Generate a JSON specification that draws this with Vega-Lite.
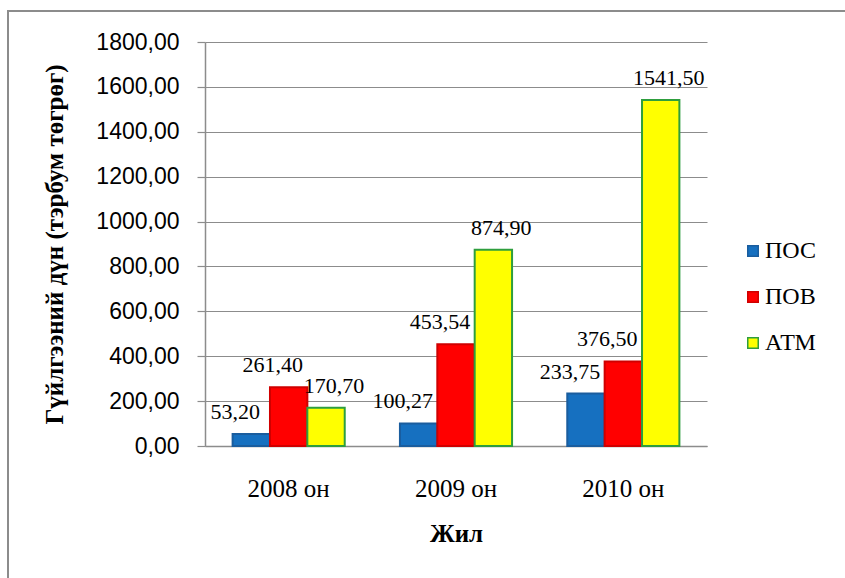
{
  "$schema": "https://vega.github.io/schema/vega-lite/v6.json",
  "width": 841,
  "height": 571,
  "autosize": {"type": "none"},
  "padding": {"left": 8, "top": 11, "right": -4, "bottom": -4},
  "background": "white",
  "config": {
    "view": {"stroke": "#8c8c8c", "strokeWidth": 2},
    "locale": {"number": {"decimal": ",", "thousands": "", "grouping": [3], "currency": ["", ""]}}
  },
  "data": {
    "values": [
      {"year": "2008 он", "type": "ПОС", "value": 53.20},
      {"year": "2008 он", "type": "ПОВ", "value": 261.40},
      {"year": "2008 он", "type": "АТМ", "value": 170.70},
      {"year": "2009 он", "type": "ПОС", "value": 100.27},
      {"year": "2009 он", "type": "ПОВ", "value": 453.54},
      {"year": "2009 он", "type": "АТМ", "value": 874.90},
      {"year": "2010 он", "type": "ПОС", "value": 233.75},
      {"year": "2010 он", "type": "ПОВ", "value": 376.50},
      {"year": "2010 он", "type": "АТМ", "value": 1541.50}
    ]
  },
  "encoding": {
    "x": {
      "field": "year", "type": "nominal",
      "scale": {"paddingInner": 0.33, "paddingOuter": 0.165, "range": [197, 699]},
      "axis": {
        "title": "Жил", "labelAngle": 0, "ticks": false, "offset": -136,
        "domainColor": "#8c8c8c", "domainWidth": 1.5,
        "labelFont": "Liberation Serif, serif", "labelFontSize": 25, "labelColor": "black", "labelPadding": 30,
        "titleFont": "Liberation Serif, serif", "titleFontSize": 25, "titleFontWeight": "bold", "titleColor": "black", "titlePadding": 20
      }
    },
    "xOffset": {"field": "type", "type": "nominal", "sort": ["ПОС", "ПОВ", "АТМ"], "scale": {"paddingInner": 0, "paddingOuter": 0}},
    "y": {
      "field": "value", "type": "quantitative",
      "scale": {"domain": [0, 1800], "nice": false, "range": [435, 31]},
      "axis": {
        "title": "Гүйлгээний дүн (тэрбум төгрөг)", "values": [0, 200, 400, 600, 800, 1000, 1200, 1400, 1600, 1800],
        "offset": -197,
        "format": ".2f", "gridColor": "#8c8c8c", "gridWidth": 1.2, "domainColor": "#8c8c8c", "domainWidth": 1.5,
        "tickColor": "#8c8c8c", "tickSize": 8, "tickWidth": 1.2,
        "labelFont": "Liberation Sans", "labelFontSize": 23, "labelColor": "black", "labelPadding": 18,
        "titleFont": "Liberation Serif, serif", "titleFontSize": 25, "titleFontWeight": "bold", "titleColor": "black", "titlePadding": 28
      }
    }
  },
  "layer": [
    {
      "mark": {"type": "bar", "strokeWidth": 2},
      "encoding": {
        "fill": {
          "field": "type", "type": "nominal",
          "scale": {"domain": ["ПОС", "ПОВ", "АТМ"], "range": ["#1670c0", "#ff0000", "#ffff00"]},
          "legend": {
            "title": null, "orient": "none", "legendX": 733, "legendY": 228,
            "symbolType": "square", "symbolSize": 110, "symbolStrokeWidth": 1.5,
            "labelFont": "Liberation Serif, serif", "labelFontSize": 24, "labelColor": "black",
            "rowPadding": 22, "labelOffset": 0
          }
        },
        "stroke": {
          "field": "type", "type": "nominal",
          "scale": {"domain": ["ПОС", "ПОВ", "АТМ"], "range": ["#1a5d9e", "#d00000", "#2e9e3e"]}
        }
      }
    },
    {
      "transform": [{"filter": "datum.type !== 'АТМ'"}],
      "mark": {"type": "text", "baseline": "bottom", "dy": -10, "dx": -16, "font": "Liberation Serif, serif", "fontSize": 22, "color": "black"},
      "encoding": {"text": {"field": "value", "type": "quantitative", "format": ".2f"}}
    },
    {
      "transform": [{"filter": "datum.type === 'АТМ'"}],
      "mark": {"type": "text", "baseline": "bottom", "dy": -10, "dx": 8, "font": "Liberation Serif, serif", "fontSize": 22, "color": "black"},
      "encoding": {"text": {"field": "value", "type": "quantitative", "format": ".2f"}}
    }
  ]
}
